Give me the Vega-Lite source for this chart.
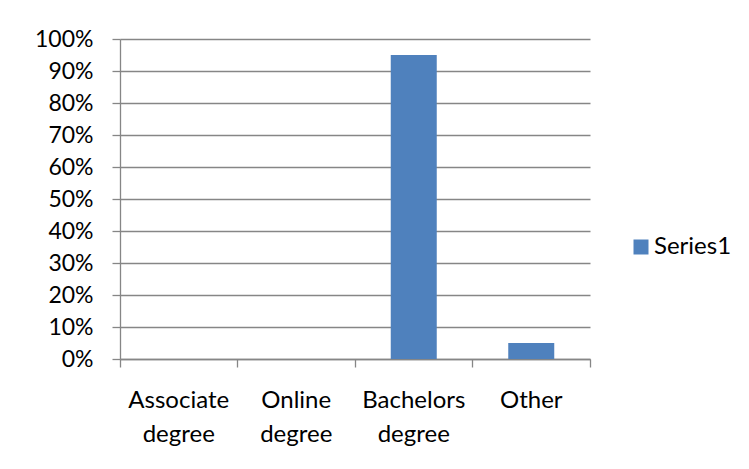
{
  "$schema": "https://vega.github.io/schema/vega-lite/v6.json",
  "width": 470,
  "height": 320,
  "autosize": {"type": "none"},
  "padding": {"left": 120, "top": 39, "right": 159, "bottom": 110},
  "background": "white",
  "config": {
    "view": {"stroke": null},
    "font": "Lato",
    "axis": {"labelFont": "Lato", "labelFontSize": 23, "labelColor": "#000000", "domainColor": "#868686", "tickColor": "#868686", "gridColor": "#868686", "domainWidth": 1.3, "tickWidth": 1.3, "gridWidth": 1.3}
  },
  "data": {
    "values": [
      {"category": "Associate degree", "value": 0, "series": "Series1"},
      {"category": "Online degree", "value": 0, "series": "Series1"},
      {"category": "Bachelors degree", "value": 0.95, "series": "Series1"},
      {"category": "Other", "value": 0.05, "series": "Series1"}
    ]
  },
  "mark": {"type": "bar", "size": 46},
  "encoding": {
    "x": {
      "field": "category",
      "type": "nominal",
      "sort": null,
      "scale": {"paddingInner": 0, "paddingOuter": 0},
      "axis": {
        "title": null,
        "labelAngle": 0,
        "bandPosition": 1,
        "tickExtra": true,
        "tickSize": 8,
        "labelFontSize": 24,
        "labelPadding": 21,
        "labelLineHeight": 34,
        "labelExpr": "split(datum.label, ' ')",
        "grid": false
      }
    },
    "y": {
      "field": "value",
      "type": "quantitative",
      "scale": {"domain": [0, 1]},
      "axis": {
        "title": null,
        "format": ".0%",
        "values": [0, 0.1, 0.2, 0.3, 0.4, 0.5, 0.6, 0.7, 0.8, 0.9, 1],
        "tickSize": 8,
        "labelPadding": 19,
        "grid": true
      }
    },
    "color": {
      "field": "series",
      "type": "nominal",
      "scale": {"range": ["#4f81bd"]},
      "legend": {
        "title": null,
        "orient": "none",
        "legendX": 509,
        "legendY": 196,
        "symbolType": "square",
        "symbolSize": 225,
        "symbolStrokeWidth": 0,
        "labelFont": "Lato",
        "labelFontSize": 24,
        "labelColor": "#000000",
        "labelOffset": 1
      }
    }
  }
}
